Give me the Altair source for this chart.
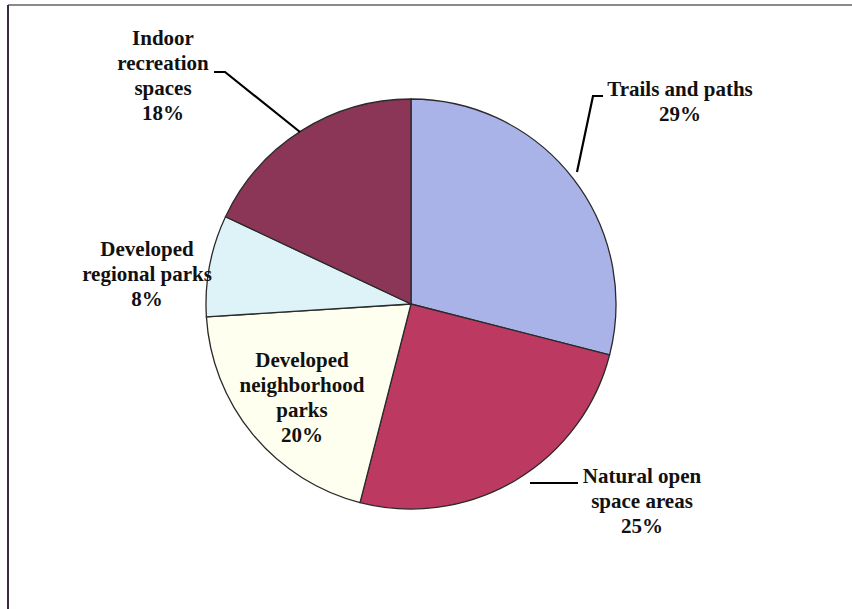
import altair as alt
import pandas as pd

# Share of residents' preferred recreation facility type (percent)
categories = [
    "Trails and paths",
    "Natural open space areas",
    "Developed neighborhood parks",
    "Developed regional parks",
    "Indoor recreation spaces",
]
shares = [29, 25, 20, 8, 18]
colors = ["#A9B3E8", "#BC3A62", "#FFFFF0", "#DDF3F8", "#8B3557"]

# Label wording, line by line (the percentage line is appended from shares)
label_names = [
    ["Trails and paths"],
    ["Natural open", "space areas"],
    ["Developed", "neighborhood", "parks"],
    ["Developed", "regional parks"],
    ["Indoor", "recreation", "spaces"],
]

# Layout: pie geometry and label anchors (pixels)
CX, CY, R = 411, 304, 205
label_x = [680, 642, 302, 147, 163]
label_y = [96, 483, 367, 256, 45]

# Leader lines as polylines (pixels)
leaders = {
    "Trails and paths": [(603, 96), (593, 96), (577, 172)],
    "Natural open space areas": [(530, 483), (578, 483)],
    "Indoor recreation spaces": [(214, 72), (225, 72), (300, 132)],
}

W, H = 852, 609

pie_df = pd.DataFrame({
    "category": categories,
    "share": shares,
    "order": list(range(len(categories))),
})

labels_df = pd.DataFrame({
    "category": categories,
    "text": ["\n".join(n + [f"{s}%"]) for n, s in zip(label_names, shares)],
    "lx": label_x,
    "ly": label_y,
})

leader_rows = []
for name, pts in leaders.items():
    for i, (px, py) in enumerate(pts):
        leader_rows.append({"leader": name, "i": i, "px": px, "py": py})
leader_df = pd.DataFrame(leader_rows)

pie = alt.Chart(pie_df).mark_arc(
    outerRadius=R, stroke="#2a2a2a", strokeWidth=1.3
).encode(
    theta=alt.Theta("share:Q", stack=True),
    order=alt.Order("order:Q"),
    color=alt.Color(
        "category:N",
        scale=alt.Scale(domain=categories, range=colors),
        legend=None,
    ),
    x=alt.value(CX),
    y=alt.value(CY),
)

leader_lines = alt.Chart(leader_df).mark_line(
    color="#000000", strokeWidth=2.2
).encode(
    x=alt.X("px:Q", scale=None, axis=None),
    y=alt.Y("py:Q", scale=None, axis=None),
    detail="leader:N",
    order="i:Q",
)

label_text = alt.Chart(labels_df).mark_text(
    font="Liberation Serif",
    fontWeight="bold",
    fontSize=21,
    lineHeight=25,
    lineBreak="\n",
    align="center",
    baseline="alphabetic",
    color="#111111",
).encode(
    x=alt.X("lx:Q", scale=None, axis=None),
    y=alt.Y("ly:Q", scale=None, axis=None),
    text="text:N",
)

# Frame edges: grey top border and dark left border
frame_top = alt.Chart(pd.DataFrame({"k": [0]})).mark_rule(
    color="#8a8a8a", strokeWidth=2
).encode(x=alt.value(8), x2=alt.value(W), y=alt.value(5))

frame_left = alt.Chart(pd.DataFrame({"k": [0]})).mark_rule(
    color="#3a2a40", strokeWidth=2
).encode(x=alt.value(8), y=alt.value(5), y2=alt.value(H))

chart = alt.layer(
    pie, leader_lines, label_text, frame_top, frame_left
).properties(
    width=W,
    height=H,
    autosize=alt.AutoSizeParams(type="none"),
    padding=0,
    background="#ffffff",
).configure_view(stroke=None)

chart.save("out.html", embed_options={"renderer": "svg", "actions": False})
